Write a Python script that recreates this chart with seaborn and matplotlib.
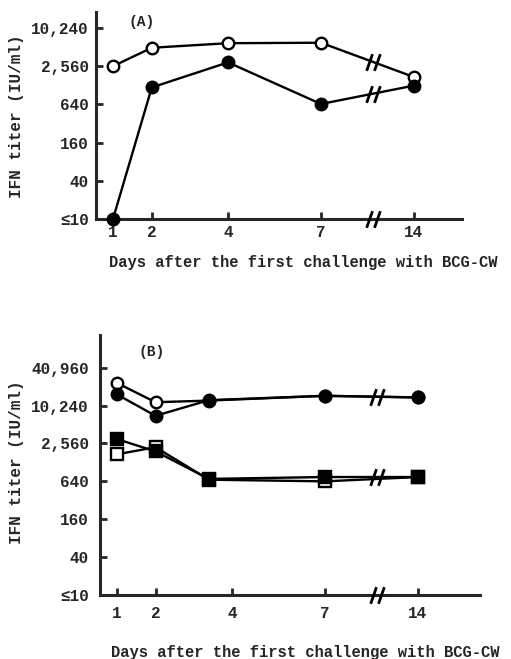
import numpy as np
import pandas as pd
import matplotlib
matplotlib.use("Agg")
import matplotlib.pyplot as plt
import seaborn as sns
from matplotlib.path import Path

# ---------------- data ----------------
tick_days = [1, 2, 4, 7, 14]
tick_pos = [1.0, 2.12, 4.32, 7.0, 9.68]          # broken axis layout
xtick_labels = ["1", "2", "4", "7", "14"]

ytick_vals_a = [10, 40, 160, 640, 2560, 10240]
ytick_labels_a = ["≤10", "40", "160", "640", "2,560", "10,240"]
ytick_vals_b = [10, 40, 160, 640, 2560, 10240, 40960]
ytick_labels_b = ["≤10", "40", "160", "640", "2,560", "10,240", "40,960"]

days_a = [1, 2, 4, 7, 14]
a_open_circle = [2560, 5000, 5900, 6000, 1730]
a_filled_circle = [10, 1185, 2940, 650, 1265]

days_b = [1, 2, 3.4, 7, 14]
b_open_circle = [23550, 11580, 12300, 14650, 13800]
b_filled_circle = [15500, 7050, 12500, 14650, 13800]
b_open_square = [1720, 2230, 680, 640, 750]
b_filled_square = [3020, 1915, 700, 750, 750]

xlabel = "Days after the first challenge with BCG-CW"
ylabel = "IFN titer (IU/ml)"

# ---------------- style ----------------
sns.set_style("ticks")
plt.rcParams["font.family"] = ["Liberation Mono", "DejaVu Sans Mono", "DejaVu Sans"]
plt.rcParams["font.weight"] = "bold"
FS = 11.5

W, H = 511, 659
fig = plt.figure(figsize=(W / 100, H / 100), dpi=100)


def px_axes(l, r, t, b):
    return fig.add_axes([l / W, 1 - b / H, (r - l) / W, (b - t) / H])


slash = Path([(-0.82, -1), (-0.12, 1), (0.12, -1), (0.82, 1)],
             [Path.MOVETO, Path.LINETO, Path.MOVETO, Path.LINETO])
BREAK = 8.5


def to_pos(days):
    return np.interp(days, tick_days, tick_pos)


def draw(ax, days, vals, marker, filled, ms, z):
    df = pd.DataFrame({"x": to_pos(days), "y": vals})
    sns.lineplot(data=df, x="x", y="y", ax=ax, color="black", lw=1.7,
                 marker=marker, markersize=ms,
                 markerfacecolor="black" if filled else "white",
                 markeredgecolor="black", markeredgewidth=1.7,
                 clip_on=False, zorder=z, legend=False)


def line_break(ax, days, vals):
    p = to_pos(days)
    y = np.exp(np.interp(BREAK, p[-2:], np.log(vals[-2:])))
    ax.plot([BREAK], [y], marker=slash, markersize=12, mew=2,
            color="black", linestyle="none", clip_on=False, zorder=6)


def style_axes(ax, xlim, ylim, yvals, ylabels, xpad, ypad):
    ax.set_yscale("log")
    ax.set_xlim(*xlim)
    ax.set_ylim(*ylim)
    ax.set_xticks(tick_pos)
    ax.set_xticklabels(xtick_labels)
    ax.set_yticks(yvals)
    ax.set_yticklabels(ylabels)
    ax.minorticks_off()
    ax.set_xlabel("")
    ax.set_ylabel("")
    for s in ("top", "right"):
        ax.spines[s].set_visible(False)
    for s in ("left", "bottom"):
        ax.spines[s].set_linewidth(2.2)
    ax.tick_params(axis="both", direction="in", length=5, width=2,
                   labelsize=FS)
    ax.tick_params(axis="x", pad=xpad)
    ax.tick_params(axis="y", pad=ypad)
    for lab in ax.get_xticklabels() + ax.get_yticklabels():
        lab.set_fontweight("bold")
    ax.plot([BREAK], [ylim[0]], marker=slash, markersize=12, mew=2,
            color="black", linestyle="none", clip_on=False, zorder=6)


# ---------------- panel A ----------------
axA = px_axes(96, 462, 12, 219)
draw(axA, days_a, a_open_circle, "o", False, 8.3, 3)
draw(axA, days_a, a_filled_circle, "o", True, 8.3, 4)
line_break(axA, days_a, a_open_circle)
line_break(axA, days_a, a_filled_circle)
style_axes(axA, (0.51, 11.07), (10, 18300), ytick_vals_a, ytick_labels_a, 4, 5)
fig.text(142 / W, 1 - 22 / H, "(A)", ha="center", va="center",
         fontsize=10.5, fontweight="bold")

# ---------------- panel B ----------------
axB = px_axes(100, 480, 335, 595)
draw(axB, days_b, b_open_circle, "o", False, 8.3, 3)
draw(axB, days_b, b_filled_circle, "o", True, 8.3, 4)
draw(axB, days_b, b_open_square, "s", False, 8.8, 3)
draw(axB, days_b, b_filled_square, "s", True, 8.8, 4)
line_break(axB, days_b, b_filled_circle)
line_break(axB, days_b, b_filled_square)
style_axes(axB, (0.52, 11.47), (10, 135600), ytick_vals_b, ytick_labels_b, 8, 8)
fig.text(152 / W, 1 - 352 / H, "(B)", ha="center", va="center",
         fontsize=10.5, fontweight="bold")

# ---------------- labels ----------------
for yc in (116, 462):
    fig.text(17 / W, 1 - yc / H, ylabel, rotation=90, ha="center",
             va="center", fontsize=FS, fontweight="bold")
fig.text(109 / W, 1 - 263 / H, xlabel, ha="left", va="center",
         fontsize=11.2, fontweight="bold")
fig.text(111 / W, 1 - 653 / H, xlabel, ha="left", va="center",
         fontsize=11.2, fontweight="bold")

fig.savefig("out.png", dpi=100)
